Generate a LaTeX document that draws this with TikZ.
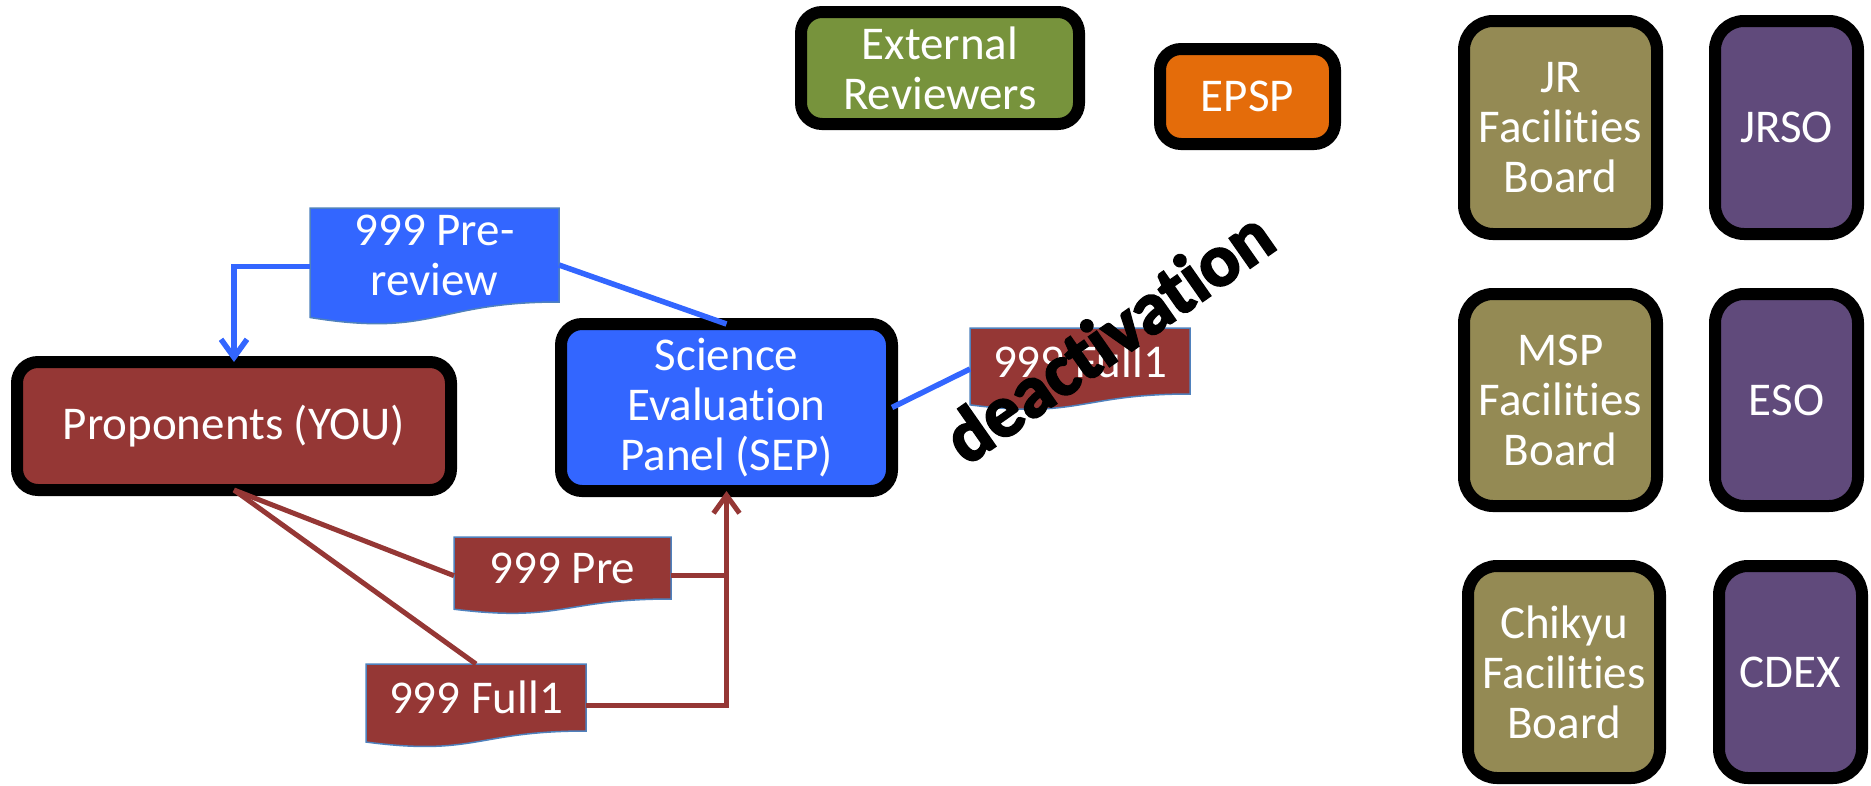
\documentclass[tikz,border=0pt]{standalone}
\usepackage{fontspec}
\setmainfont{Carlito}[Ligatures=NoCommon]
\newfontface\deactface{Carlito Bold}[Ligatures=NoCommon, FakeBold=3]
\usetikzlibrary{arrows.meta,calc,backgrounds}
\definecolor{cred}{HTML}{953735}
\definecolor{cblue}{HTML}{3366FF}
\definecolor{cgreen}{HTML}{77933C}
\definecolor{corange}{HTML}{E46C0A}
\definecolor{colive}{HTML}{948A54}
\definecolor{cpurple}{HTML}{604A7B}
\definecolor{labeledge}{HTML}{4F81BD}
\tikzset{
  box/.style={draw=black, line width=12pt, rounded corners=21pt, text=white, align=center,
    inner sep=0pt, outer sep=0pt, font=\fontsize{47}{50}\selectfont},
  bigbox/.style={box, rounded corners=29pt},
  doclabel/.style={inner sep=0pt, outer sep=0pt, text=white, align=center,
    font=\fontsize{47}{50}\selectfont},
  docfill/.style={draw=labeledge, line width=1.5pt},
  redline/.style={draw=cred, line width=5pt},
  blueline/.style={draw=cblue, line width=5.5pt},
  tipend/.style={-{Straight Barb[length=18pt,width=26pt]}},
}
\newcommand\docshape[2]{%
  \path[docfill, fill=#2] let \p1=(#1.north west), \p2=(#1.south east) in
    (\x1,\y1) -- (\x2,\y1) -- (\x2,\y2)
    .. controls ({(\x1+\x2)/2},\y2) and ({(\x1+\x2)/2},{\y1-1.380*(\y1-\y2)})
    .. (\x1,{\y1-1.1646*(\y1-\y2)}) -- cycle;}
\begin{document}
\begin{tikzpicture}[x=1pt,y=-1pt]
\useasboundingbox (0,0) rectangle (1871,785);

% main boxes
\node[box, fill=cred, minimum width=434pt, minimum height=128pt] (prop) at (234,426) {Proponents (YOU)};
\node[box, fill=cblue, minimum width=331pt, minimum height=167pt] (sep) at (726.5,407.5) {Science\\Evaluation\\Panel (SEP)};
\node[box, fill=cgreen, minimum width=278pt, minimum height=112pt] (ext) at (940,68) {External\\Reviewers};
\node[box, fill=corange, minimum width=175pt, minimum height=95pt] (epsp) at (1247.5,96.5) {EPSP};

% right column
\node[bigbox, fill=colive, minimum width=193pt, minimum height=213pt] (jrfb) at (1560.5,127.5) {JR\\Facilities\\Board};
\node[bigbox, fill=cpurple, minimum width=143pt, minimum height=213pt] (jrso) at (1786.5,127.5) {JRSO};
\node[bigbox, fill=colive, minimum width=193pt, minimum height=212pt] (mspfb) at (1560.5,400) {MSP\\Facilities\\Board};
\node[bigbox, fill=cpurple, minimum width=143pt, minimum height=212pt] (eso) at (1786.5,400) {ESO};
\node[bigbox, fill=colive, minimum width=192pt, minimum height=212pt] (chfb) at (1564,672) {Chikyu\\Facilities\\Board};
\node[bigbox, fill=cpurple, minimum width=143pt, minimum height=212pt] (cdex) at (1790.5,672) {CDEX};

% document labels
\node[doclabel, minimum width=249pt, minimum height=94pt] (prerev) at (434.5,255) {999 Pre-\\review};
\node[doclabel, minimum width=217pt, minimum height=62pt] (pre) at (562.5,568) {999 Pre};
\node[doclabel, minimum width=220pt, minimum height=67pt] (full) at (476,697.5) {999 Full1};
\node[doclabel, minimum width=220pt, minimum height=66pt] (full2) at (1080,361) {999 Full1};

\begin{scope}[on background layer]
  \docshape{prerev}{cblue}
  \docshape{pre}{cred}
  \docshape{full}{cred}
  \docshape{full2}{cred}
\end{scope}

% connectors
\draw[blueline, tipend] ([yshift=-11.6pt]prerev.west) -| (prop.north);
\draw[blueline] ([yshift=-10pt]prerev.east) -- (sep.north);
\draw[blueline] (sep.east) -- ([yshift=-8pt]full2.west);
\draw[redline] (prop.south) -- ([yshift=-7.7pt]pre.west);
\draw[redline] (prop.south) -- (full.north);
\draw[redline] ([yshift=-7.7pt]pre.east) -- ([yshift=-7.7pt]pre.east -| sep.south);
\draw[redline, tipend] ([yshift=-8.3pt]full.east) -| (sep.south);

% overlay text
\node[rotate=35, font=\fontsize{74}{74}\deactface, text=black] (deact) at (1108,336) {deactivation};
\end{tikzpicture}
\end{document}
